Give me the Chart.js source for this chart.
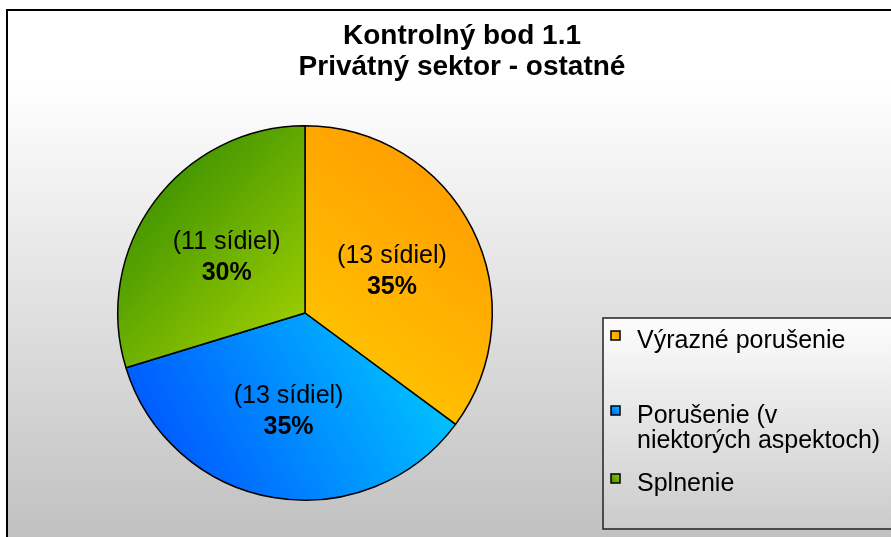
<!DOCTYPE html>
<html>
<head>
<meta charset="utf-8">
<script src="https://cdn.jsdelivr.net/npm/chart.js@4/dist/chart.umd.min.js"></script>
<style>
  html, body { margin: 0; padding: 0; background: #fff; }
  canvas { display: block; }
</style>
</head>
<body>
<canvas id="chart-pie" width="891" height="537"></canvas>
<script>
// ---- data
const titleLines = ['Kontrolný bod 1.1', 'Privátný sektor - ostatné']
const categories = ['Výrazné porušenie', 'Porušenie (v niektorých aspektoch)', 'Splnenie']
const legendLines = [['Výrazné porušenie'], ['Porušenie (v', 'niektorých aspektoch)'], ['Splnenie']]
const counts = [13, 13, 11]
const unitText = 'sídiel'

// gradient colours per slice [start, end]
const sliceColors = [
    ['#ffcc00', '#ff9900'],
    ['#0050ff', '#00ccff'],
    ['#3a9000', '#99cc00']
]

const FONT = '"Liberation Sans", Arial, sans-serif'

function sliceFill(context) {
    const chart = context.chart
    const area = chart.chartArea
    if (!area) return sliceColors[context.dataIndex][0]
    const ctx = chart.ctx
    const l = area.left, r = area.right, t = area.top, b = area.bottom
    const cx = (l + r) / 2, cy = (t + b) / 2
    let g
    if (context.dataIndex === 0) {
        g = ctx.createLinearGradient(cx, cy + 100, r, t + 40)
    } else if (context.dataIndex === 1) {
        g = ctx.createLinearGradient(l + 30, b - 20, cx + 130, cy + 10)
    } else {
        g = ctx.createLinearGradient(l + 30, t + 40, cx, cy)
    }
    g.addColorStop(0, sliceColors[context.dataIndex][0])
    g.addColorStop(1, sliceColors[context.dataIndex][1])
    return g
}

// background + frame + title
const backgroundPlugin = {
    id: 'bgFrame',
    beforeDraw(chart) {
        const ctx = chart.ctx
        ctx.save()
        ctx.fillStyle = '#ffffff'
        ctx.fillRect(0, 0, chart.width, chart.height)
        const g = ctx.createLinearGradient(0, 80, 0, chart.height)
        g.addColorStop(0, '#ffffff')
        g.addColorStop(1, '#c1c1c1')
        ctx.fillStyle = g
        ctx.fillRect(7, 10, chart.width - 7, chart.height - 10)
        ctx.strokeStyle = '#000'
        ctx.lineWidth = 2
        ctx.beginPath()
        ctx.moveTo(7, chart.height)
        ctx.lineTo(7, 10)
        ctx.lineTo(chart.width, 10)
        ctx.stroke()

        ctx.fillStyle = '#000'
        ctx.font = 'bold 28px ' + FONT
        ctx.textAlign = 'center'
        ctx.textBaseline = 'alphabetic'
        titleLines.forEach((line, i) => ctx.fillText(line, 462, 44 + i * 31))
        ctx.restore()
    }
}

// labels inside slices
const sliceLabelPlugin = {
    id: 'sliceLabels',
    afterDatasetsDraw(chart) {
        const ctx = chart.ctx
        const meta = chart.getDatasetMeta(0)
        const data = chart.data.datasets[0].data
        const total = data.reduce((a, b) => a + b, 0)
        ctx.save()
        ctx.fillStyle = '#000'
        ctx.textAlign = 'center'
        ctx.textBaseline = 'alphabetic'
        meta.data.forEach((arc, i) => {
            const p = arc.getProps(['x', 'y', 'startAngle', 'endAngle', 'outerRadius'], true)
            const mid = (p.startAngle + p.endAngle) / 2
            const lx = p.x + Math.cos(mid) * p.outerRadius * 0.52
            const ly = p.y + Math.sin(mid) * p.outerRadius * 0.52
            ctx.font = '25px ' + FONT
            ctx.fillText('(' + data[i] + ' ' + unitText + ')', lx, ly - 6)
            ctx.font = 'bold 25px ' + FONT
            ctx.fillText(Math.round(data[i] / total * 100) + '%', lx, ly + 25)
        })
        ctx.restore()
    }
}

// legend box
const legendBoxPlugin = {
    id: 'legendBox',
    afterDraw(chart) {
        const ctx = chart.ctx
        const bx = 603, by = 318, bh = 211
        ctx.save()
        const g = ctx.createLinearGradient(0, by, 0, by + bh)
        g.addColorStop(0, '#fdfdfd')
        g.addColorStop(1, '#cbcbcb')
        ctx.fillStyle = g
        ctx.fillRect(bx, by, chart.width - bx + 5, bh)
        ctx.strokeStyle = '#222'
        ctx.lineWidth = 1.5
        ctx.strokeRect(bx, by, chart.width - bx + 5, bh)

        const markerTops = [331, 406, 474]
        ctx.font = '25px ' + FONT
        ctx.textAlign = 'left'
        ctx.textBaseline = 'alphabetic'
        legendLines.forEach((lines, i) => {
            const my = markerTops[i]
            const mg = ctx.createLinearGradient(611, my + 9, 620, my)
            mg.addColorStop(0, sliceColors[i][0])
            mg.addColorStop(1, sliceColors[i][1])
            ctx.fillStyle = mg
            ctx.fillRect(611, my, 9, 9)
            ctx.strokeStyle = '#000'
            ctx.lineWidth = 1.5
            ctx.strokeRect(611, my, 9, 9)
            ctx.fillStyle = '#000'
            lines.forEach((line, j) => ctx.fillText(line, 637, my + 17 + j * 25))
        })
        ctx.restore()
    }
}

const configPie = {
    type: 'pie',
    data: {
        labels: categories,
        datasets: [{
            data: counts,
            backgroundColor: sliceFill,
            borderColor: '#000',
            borderWidth: 1.5
        }]
    },
    options: {
        responsive: false,
        animation: false,
        devicePixelRatio: 1,
        layout: {
            padding: { left: 117, right: 398, top: 125, bottom: 36 }
        },
        plugins: {
            legend: { display: false },
            title: { display: false },
            tooltip: { enabled: false }
        }
    },
    plugins: [backgroundPlugin, sliceLabelPlugin, legendBoxPlugin]
}

const ctx_pie = document.getElementById('chart-pie').getContext('2d')
const myChart_pie = new Chart(ctx_pie, configPie)
</script>
</body>
</html>
